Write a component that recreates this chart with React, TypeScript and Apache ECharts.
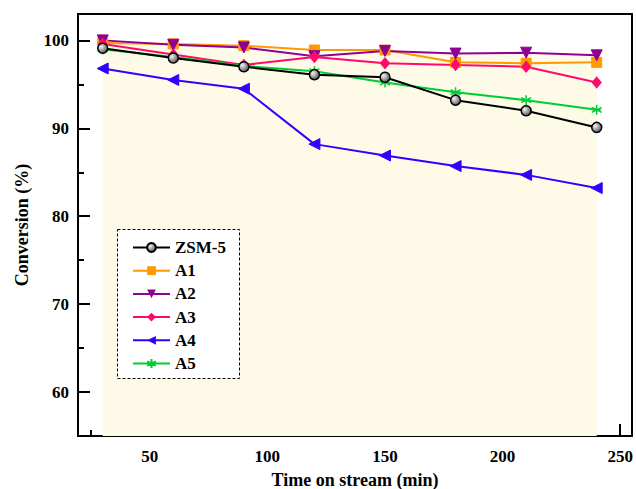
import React, { useEffect, useRef } from "react";
import * as echarts from "echarts";

const times = [30, 60, 90, 120, 150, 180, 210, 240];
const zsm5 = [99.1, 98.0, 97.0, 96.1, 95.8, 93.2, 92.0, 90.1];
const a1 = [99.7, 99.6, 99.4, 98.9, 98.9, 97.5, 97.4, 97.5];
const a2 = [100.0, 99.5, 99.2, 98.2, 98.8, 98.5, 98.6, 98.3];
const a3 = [99.6, 98.4, 97.2, 98.1, 97.4, 97.2, 97.0, 95.2];
const a4 = [96.8, 95.5, 94.5, 88.2, 86.9, 85.7, 84.7, 83.2];
const a5 = [99.0, 98.1, 97.1, 96.5, 95.2, 94.1, 93.2, 92.1];

const yMajor = [60, 70, 80, 90, 100];
const yMinor = [55, 65, 75, 85, 95];
const xMajor = [50, 100, 150, 200, 250];
const xMinor = [25, 75, 125, 175, 225];

const FONT = "'Liberation Serif', 'Times New Roman', serif";

const pairs = (ys: number[]) => times.map((t, i) => [t, ys[i]]);

export default function App() {
  const ref = useRef<HTMLDivElement>(null);
  useEffect(() => {
    document.body.style.margin = "0";
    if (!ref.current) return;
    const chart = echarts.init(ref.current, null, { renderer: "svg" });
    const asterisk =
      "path://M5,0L5,10M0.67,2.5L9.33,7.5M0.67,7.5L9.33,2.5M1.5,5L8.5,5";
    const baseLine = (name: string, data: number[], color: string, extra: any) => ({
      name,
      type: "line",
      data: pairs(data),
      xAxisIndex: 0,
      yAxisIndex: 0,
      symbolSize: 10,
      z: 3,
      lineStyle: { color, width: 2 },
      itemStyle: { color, borderColor: color },
      ...extra,
    });
    const option: any = {
      animation: false,
      backgroundColor: "#fff",
      grid: {
        left: 78,
        right: 4,
        top: 14,
        bottom: 53,
        containLabel: false,
        outerBoundsMode: "none",
        show: true,
        borderColor: "#000",
        borderWidth: 2,
        backgroundColor: "transparent",
      },
      legend: {
        orient: "vertical",
        left: 127,
        top: 234,
        itemWidth: 37,
        itemHeight: 11,
        itemGap: 6.2,
        data: ["ZSM-5", "A1", "A2", "A3", "A4", "A5"],
        textStyle: { fontFamily: FONT, fontWeight: "bold", fontSize: 17, lineHeight: 17, color: "#000" },
        z: 6,
      },
      graphic: [
        {
          type: "rect",
          left: 117,
          top: 229,
          shape: { width: 122, height: 149 },
          style: { fill: "#fff", stroke: "#000", lineWidth: 1, lineDash: [3, 2] },
          z: 5,
        },
      ],
      xAxis: [
        {
          type: "value",
          min: 19.5,
          max: 255,
          position: "bottom",
          axisLine: { show: true, lineStyle: { color: "#000", width: 2 } },
          axisTick: { show: true, inside: true, length: 12, customValues: xMajor, lineStyle: { width: 2, color: "#000" } },
          axisLabel: { customValues: xMajor, margin: 12, color: "#000", fontFamily: FONT, fontWeight: "bold", fontSize: 17 },
          splitLine: { show: false },
          name: "Time on stream (min)",
          nameLocation: "middle",
          nameGap: 35,
          nameTextStyle: { fontFamily: FONT, fontWeight: "bold", fontSize: 18, color: "#000" },
        },
        {
          type: "value",
          min: 19.5,
          max: 255,
          position: "bottom",
          offset: 0,
          axisLine: { show: false },
          axisTick: { show: true, inside: true, length: 6, customValues: xMinor, lineStyle: { width: 2, color: "#000" } },
          axisLabel: { show: false },
          splitLine: { show: false },
        },
      ],
      yAxis: [
        {
          type: "value",
          min: 55,
          max: 103,
          position: "left",
          axisLine: { show: true, lineStyle: { color: "#000", width: 2 } },
          axisTick: { show: true, inside: true, length: 12, customValues: yMajor, lineStyle: { width: 2, color: "#000" } },
          axisLabel: { customValues: yMajor, margin: 9, color: "#000", fontFamily: FONT, fontWeight: "bold", fontSize: 17 },
          splitLine: { show: false },
          name: "Conversion (%)",
          nameLocation: "middle",
          nameGap: 47,
          nameTextStyle: { fontFamily: FONT, fontWeight: "bold", fontSize: 18, color: "#000" },
        },
        {
          type: "value",
          min: 55,
          max: 103,
          position: "left",
          offset: 0,
          axisLine: { show: false },
          axisTick: { show: true, inside: true, length: 6, customValues: yMinor, lineStyle: { width: 2, color: "#000" } },
          axisLabel: { show: false },
          splitLine: { show: false },
        },
      ],
      series: [
        {
          name: "fill",
          type: "line",
          data: pairs(a2),
          xAxisIndex: 0,
          yAxisIndex: 0,
          showSymbol: false,
          silent: true,
          z: 1,
          lineStyle: { width: 0, opacity: 0 },
          areaStyle: { color: "#FEFAE8", opacity: 1, origin: "start" },
        },
        baseLine("ZSM-5", zsm5, "#000000", {
          symbol: "circle",
          symbolSize: 10,
          z: 4,
          itemStyle: {
            color: new echarts.graphic.RadialGradient(0.35, 0.35, 0.7, [
              { offset: 0, color: "#f2f2f2" },
              { offset: 1, color: "#555" },
            ]),
            borderColor: "#000",
            borderWidth: 1.5,
          },
        }),
        baseLine("A1", a1, "#FF9900", { symbol: "rect", symbolSize: 10 }),
        baseLine("A2", a2, "#8F0094", { symbol: "triangle", symbolRotate: 180, symbolSize: 11 }),
        baseLine("A3", a3, "#FF0A6C", { symbol: "diamond", symbolSize: [9, 11] }),
        baseLine("A4", a4, "#3300FF", { symbol: "triangle", symbolRotate: 90, symbolSize: 11 }),
        baseLine("A5", a5, "#00CC33", {
          symbol: asterisk,
          symbolSize: 10,
          itemStyle: { color: "#00CC33", borderColor: "#00CC33", borderWidth: 1.5 },
        }),
      ],
    };
    chart.setOption(option);
    return () => chart.dispose();
  }, []);
  return <div ref={ref} style={{ width: 636, height: 489 }} />;
}
